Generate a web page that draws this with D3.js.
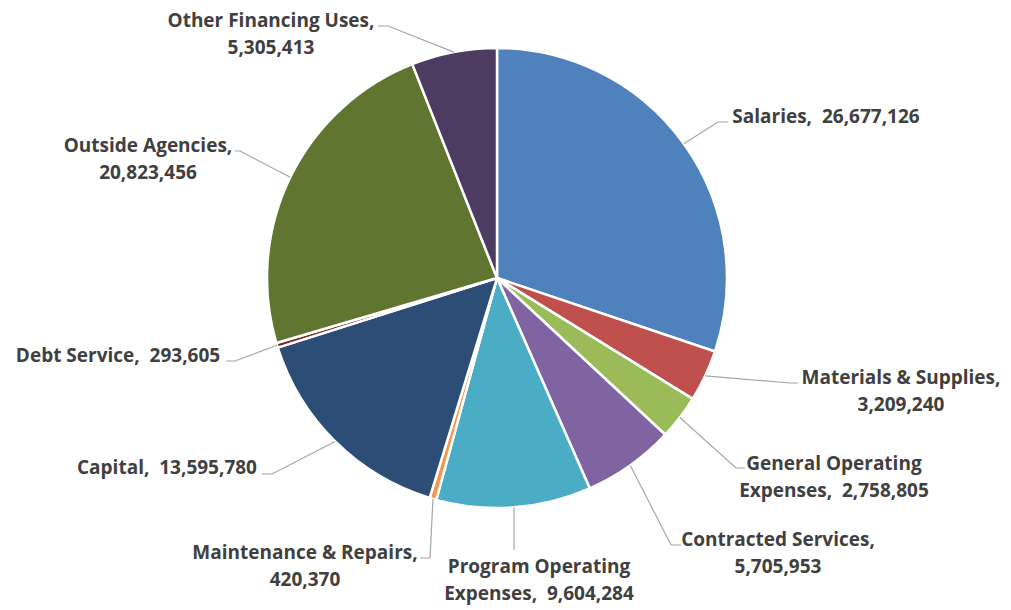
<!doctype html>
<html>
<head>
<meta charset="utf-8">
<title>Expenditures by Category</title>
<script src="https://cdn.jsdelivr.net/npm/d3@7"></script>
<style>
  html, body { margin: 0; padding: 0; background: #fff; }
  svg { display: block; }
  .lbl { font-family: "Open Sans", Lato, sans-serif; font-weight: bold; font-size: 19px; fill: #404040; white-space: pre; }
</style>
</head>
<body>
<svg id="chart" width="1011" height="610"></svg>
<script>
// categories and values
const categories = ["Salaries", "Materials & Supplies", "General Operating Expenses",
  "Contracted Services", "Program Operating Expenses", "Maintenance & Repairs",
  "Capital", "Debt Service", "Outside Agencies", "Other Financing Uses"];
const amounts = [26677126, 3209240, 2758805, 5705953, 9604284, 420370,
  13595780, 293605, 20823456, 5305413];
const colors = ["#4F81BD", "#C0504D", "#9BBB59", "#8064A2", "#4BACC6", "#F79646",
  "#2C4D75", "#772C2A", "#5F7530", "#4D3B62"];

// how each label is broken into lines (Excel wraps them this way)
const labelLines = [
  ["Salaries,  {v}"],
  ["Materials & Supplies,", "{v}"],
  ["General Operating", "Expenses,  {v}"],
  ["Contracted Services,", "{v}"],
  ["Program Operating", "Expenses,  {v}"],
  ["Maintenance & Repairs,", "{v}"],
  ["Capital,  {v}"],
  ["Debt Service,  {v}"],
  ["Outside Agencies,", "{v}"],
  ["Other Financing Uses,", "{v}"]
];

// label placement: text centre x, first line y, leader elbow and end
const labelLayout = [
  { x: 826, y: 116, elbow: [718, 122], end: [728, 122] },
  { x: 901, y: 377, elbow: [790, 383], end: [798, 383] },
  { x: 834, y: 463, elbow: [736, 468], end: [745, 468] },
  { x: 778, y: 539, elbow: [671, 545], end: [681, 545] },
  { x: 539, y: 566, elbow: [514, 550], end: [514, 550] },
  { x: 305, y: 552, elbow: [430, 558], end: [420, 558] },
  { x: 167, y: 467, elbow: [272, 474], end: [262, 474] },
  { x: 118, y: 355, elbow: [235, 361], end: [226, 361] },
  { x: 148, y: 145, elbow: [240, 151], end: [235, 151] },
  { x: 271, y: 20, elbow: [388, 26], end: [378, 26] }
];

const cx = 497, cy = 278, radius = 230;
const fmt = d3.format(",");

const data = categories.map((c, i) => ({ name: c, value: amounts[i], i: i }));

const pie = d3.pie().value(d => d.value).sort(null);
const arc = d3.arc().innerRadius(0).outerRadius(radius);
const arcs = pie(data);

const svg = d3.select("#chart");
const g = svg.append("g").attr("transform", `translate(${cx},${cy})`);

g.selectAll("path.slice")
  .data(arcs)
  .enter()
  .append("path")
  .attr("class", "slice")
  .attr("d", arc)
  .attr("fill", d => colors[d.data.i])
  .attr("stroke", "#fff")
  .attr("stroke-width", 2.5)
  .attr("stroke-linejoin", "round");

// leader lines start at the middle of each slice's outer edge
const leaders = svg.append("g");
arcs.forEach(d => {
  const mid = (d.startAngle + d.endAngle) / 2;
  const p0 = [cx + radius * Math.sin(mid), cy - radius * Math.cos(mid)];
  const L = labelLayout[d.data.i];
  leaders.append("polyline")
    .attr("points", [p0, L.elbow, L.end].map(p => p.join(",")).join(" "))
    .attr("fill", "none")
    .attr("stroke", "#a6a6a6")
    .attr("stroke-width", 1.2);
});

const labels = svg.append("g");
data.forEach(d => {
  const L = labelLayout[d.i];
  const t = labels.append("text")
    .attr("class", "lbl")
    .attr("text-anchor", "middle")
    .attr("dominant-baseline", "central");
  labelLines[d.i].forEach((line, k) => {
    t.append("tspan")
      .attr("x", L.x)
      .attr("y", L.y + k * 27)
      .text(line.replace("{v}", fmt(d.value)));
  });
});
</script>
</body>
</html>
